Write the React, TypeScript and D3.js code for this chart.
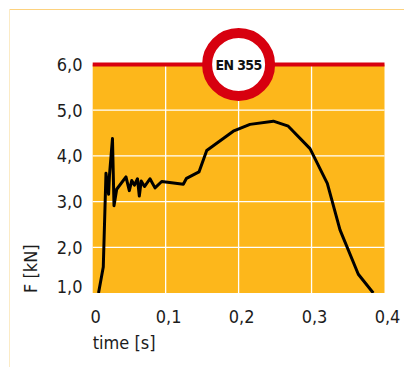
import React from "react";
import * as d3 from "d3";

const timeValues = [0.008, 0.0145, 0.0182, 0.0218, 0.023, 0.0271, 0.0292, 0.0329, 0.0456, 0.0502, 0.0535, 0.0573, 0.0614, 0.0639, 0.0665, 0.071, 0.0785, 0.0854, 0.0946, 0.1242, 0.1286, 0.1457, 0.1563, 0.1927, 0.2156, 0.2476, 0.2681, 0.2979, 0.3216, 0.339, 0.3641, 0.3846];
const forceValues = [1.0, 1.57, 3.62, 3.16, 3.58, 4.38, 2.91, 3.27, 3.54, 3.24, 3.46, 3.36, 3.5, 3.12, 3.45, 3.33, 3.5, 3.3, 3.44, 3.38, 3.51, 3.65, 4.12, 4.54, 4.69, 4.76, 4.65, 4.16, 3.4, 2.38, 1.41, 1.0];
const xTicks = [0, 0.1, 0.2, 0.3, 0.4];
const xTickLabels = ["0", "0,1", "0,2", "0,3", "0,4"];
const yTicks = [1, 2, 3, 4, 5, 6];
const yTickLabels = ["1,0", "2,0", "3,0", "4,0", "5,0", "6,0"];
const badgeText = "EN 355";
const xTitle = "time [s]";
const yTitle = "F [kN]";

const W = 404;
const H = 367;
const left = 92.7;
const right = 384.5;
const top = 64.5;
const bottom = 293;
const FONT = "'DejaVu Sans Condensed', 'DejaVu Sans', sans-serif";
const ORANGE = "#FDB71B";
const RED = "#D7000F";
const TXT = "#1c1c1c";

export default function App() {
  const x = d3.scaleLinear().domain([0, 0.4]).range([left, right]);
  const y = d3.scaleLinear().domain([1, 6]).range([bottom, top]);
  const data = timeValues.map((t, i) => [t, forceValues[i]] as [number, number]);
  const line = d3
    .line<[number, number]>()
    .x((d) => x(d[0]))
    .y((d) => y(d[1]));

  return (
    <svg
      width={W}
      height={H}
      style={{ position: "absolute", left: 0, top: 0, background: "#fff" }}
      fontFamily={FONT}
    >
      <defs>
        <clipPath id="plotClip">
          <rect x={left} y={top} width={right - left} height={bottom - top} />
        </clipPath>
      </defs>
      <line x1={9.5} y1={9.5} x2={W} y2={9.5} stroke="#FDD27E" strokeWidth={1} />
      <line x1={9.5} y1={9.5} x2={9.5} y2={H} stroke="#FBEBC6" strokeWidth={1} />

      <rect x={left} y={top} width={right - left} height={bottom - top} fill={ORANGE} />
      {xTicks.slice(1, -1).map((t) => (
        <line key={"gx" + t} x1={x(t)} x2={x(t)} y1={top} y2={bottom} stroke="#fff" strokeWidth={1.3} />
      ))}
      {yTicks.slice(1, -1).map((v) => (
        <line key={"gy" + v} x1={left} x2={right} y1={y(v)} y2={y(v)} stroke="#fff" strokeWidth={1.3} />
      ))}
      <line x1={left} x2={right} y1={y(6)} y2={y(6)} stroke={RED} strokeWidth={4} />

      <path
        d={line(data) || ""}
        fill="none"
        stroke="#000"
        strokeWidth={3}
        strokeLinejoin="round"
        clipPath="url(#plotClip)"
      />

      {yTicks.map((v, i) => (
        <text
          key={"yl" + v}
          x={82.5}
          y={y(v)}
          dy={i === 0 ? "0em" : "0.36em"}
          textAnchor="end"
          fontSize={18}
          fill={TXT}
        >
          {yTickLabels[i]}
        </text>
      ))}
      {xTicks.map((t, i) => (
        <text
          key={"xl" + t}
          x={x(t) + 3}
          y={323}
          textAnchor="middle"
          fontSize={18}
          fill={TXT}
        >
          {xTickLabels[i]}
        </text>
      ))}
      <text x={left} y={349} fontSize={18} fill={TXT}>
        {xTitle}
      </text>
      <text transform={`translate(36.5, ${bottom}) rotate(-90)`} fontSize={18} fill={TXT}>
        {yTitle}
      </text>

      <circle cx={x(0.2)} cy={y(6)} r={31.5} fill="#fff" stroke={RED} strokeWidth={10} />
      <text
        x={x(0.2)}
        y={y(6)}
        dy="0.36em"
        textAnchor="middle"
        fontSize={14}
        fontWeight="bold"
        letterSpacing={-0.6}
        fill="#111"
      >
        {badgeText}
      </text>
    </svg>
  );
}
